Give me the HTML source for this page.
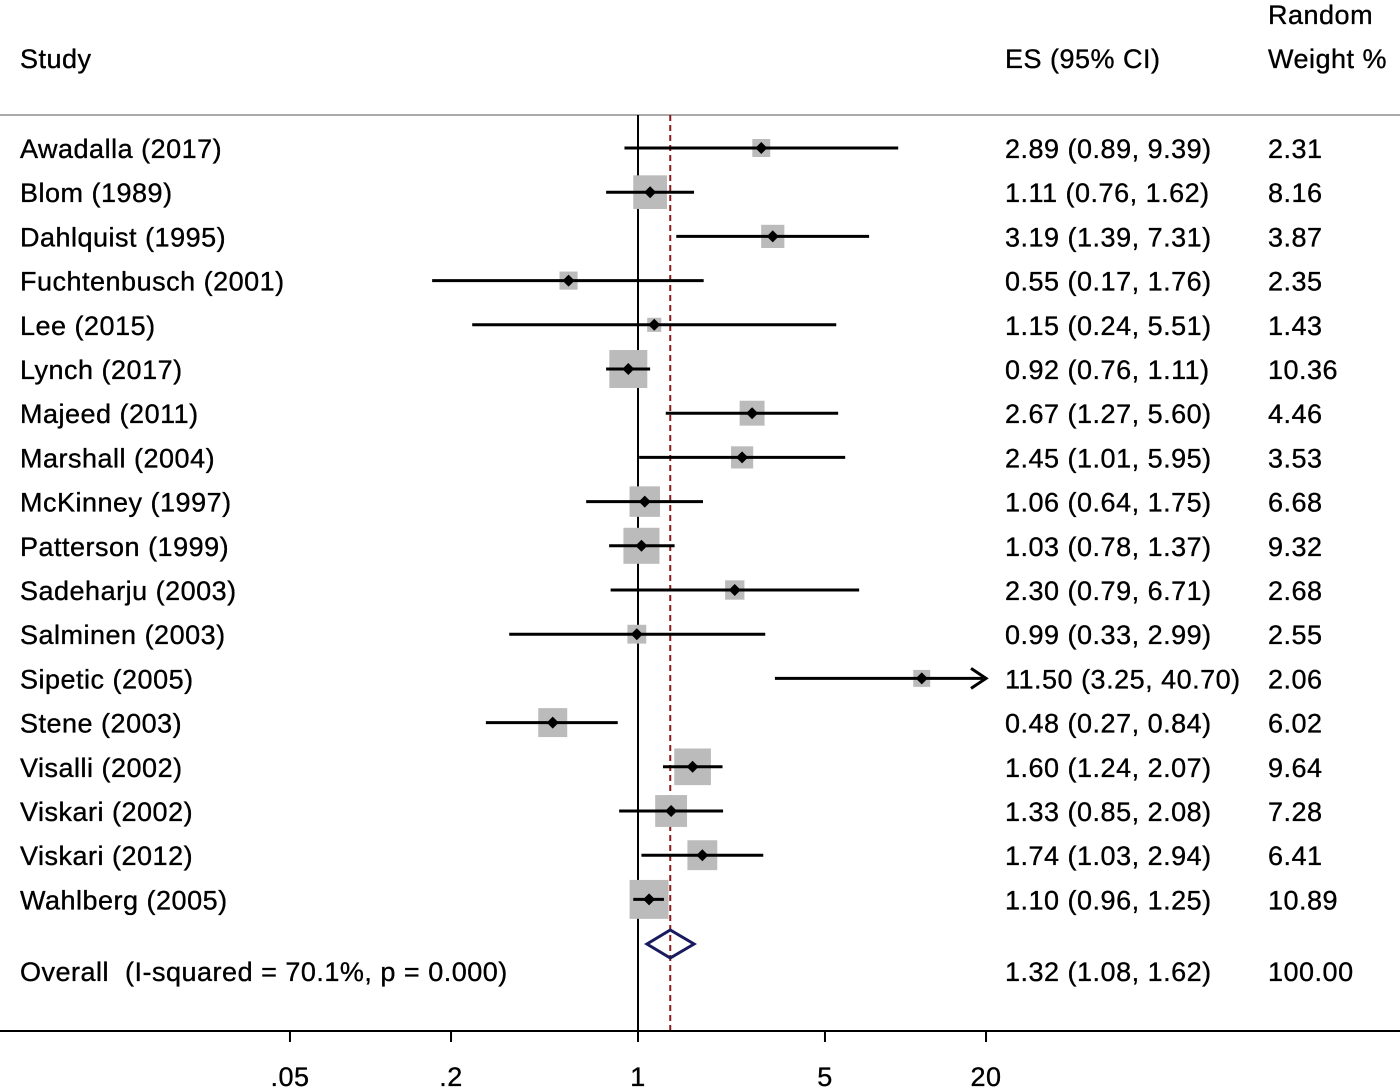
<!DOCTYPE html>
<html><head><meta charset="utf-8"><style>
body{margin:0;background:#fff;}
svg{display:block;font-family:"Liberation Sans",Arial,sans-serif;}
svg text{letter-spacing:0.5px;stroke:#000;stroke-width:0.35px;white-space:pre;}
</style></head><body>
<svg id="chart" width="1400" height="1089" viewBox="0 0 1400 1089">
<text x="20" y="68" font-size="27">Study</text>
<text x="1005" y="68" font-size="27">ES (95% CI)</text>
<text x="1268" y="24" font-size="27">Random</text>
<text x="1268" y="68" font-size="27">Weight %</text>
<line x1="0" y1="115" x2="1400" y2="115" stroke="#aaa" stroke-width="2"/>
<g id="g"></g>
</svg>
<script>
const studies=["Awadalla (2017)","Blom (1989)","Dahlquist (1995)","Fuchtenbusch (2001)","Lee (2015)","Lynch (2017)","Majeed (2011)","Marshall (2004)","McKinney (1997)","Patterson (1999)","Sadeharju (2003)","Salminen (2003)","Sipetic (2005)","Stene (2003)","Visalli (2002)","Viskari (2002)","Viskari (2012)","Wahlberg (2005)"];
const es=[2.89,1.11,3.19,0.55,1.15,0.92,2.67,2.45,1.06,1.03,2.30,0.99,11.50,0.48,1.60,1.33,1.74,1.10];
const lo=[0.89,0.76,1.39,0.17,0.24,0.76,1.27,1.01,0.64,0.78,0.79,0.33,3.25,0.27,1.24,0.85,1.03,0.96];
const hi=[9.39,1.62,7.31,1.76,5.51,1.11,5.60,5.95,1.75,1.37,6.71,2.99,40.70,0.84,2.07,2.08,2.94,1.25];
const weights=["2.31","8.16","3.87","2.35","1.43","10.36","4.46","3.53","6.68","9.32","2.68","2.55","2.06","6.02","9.64","7.28","6.41","10.89"];
const overall=[1.32,1.08,1.62];
const ticks=[0.05,0.2,1,5,20];
const tickLabels=[".05",".2","1","5","20"];
const NS="http://www.w3.org/2000/svg";
const g=document.getElementById('g');
const X=v=>638+Math.log10(v)*267.5;
const Y=i=>148+i*44.2;
const XMAX=20;
function el(t,a,txt){const e=document.createElementNS(NS,t);for(const k in a)e.setAttribute(k,a[k]);if(txt!==undefined)e.textContent=txt;g.appendChild(e);return e;}
const fmt=v=>v.toFixed(2);
let e;
e=el('line',{x1:638,y1:115,x2:638,y2:1031,stroke:'#000','stroke-width':2});

e=el('line',{x1:X(overall[0]),y1:115,x2:X(overall[0]),y2:1031,stroke:'#8b1a1a','stroke-width':2,'stroke-dasharray':'6,4'});

e=el('line',{x1:0,y1:1031,x2:1400,y2:1031,stroke:'#000','stroke-width':2});

ticks.forEach((t,i)=>{
 e=el('line',{x1:X(t),y1:1031,x2:X(t),y2:1042,stroke:'#000','stroke-width':2});
 
 e=el('text',{x:X(t),y:1086,'font-size':27,'text-anchor':'middle'},tickLabels[i]);
 
});
studies.forEach((s,i)=>{
 const y=Y(i);
 e=el('text',{x:20,y:y+10,'font-size':27},s);
 
 const side=11.8*Math.sqrt(parseFloat(weights[i]));
 e=el('rect',{x:X(es[i])-side/2,y:y-side/2,width:side,height:side,fill:'#bbb'});
 
 const h=Math.min(hi[i],XMAX);
 e=el('line',{x1:X(lo[i]),y1:y,x2:X(h)-(hi[i]>XMAX?3:0),y2:y,stroke:'#000','stroke-width':3});
 
 if(hi[i]>XMAX){
  e=el('polyline',{points:`${X(XMAX)-15},${y-10} ${X(XMAX)},${y} ${X(XMAX)-15},${y+10}`,fill:'none',stroke:'#000','stroke-width':3});
  
 }
 e=el('polygon',{points:`${X(es[i])-6},${y} ${X(es[i])},${y-6} ${X(es[i])+6},${y} ${X(es[i])},${y+6}`,fill:'#000'});
 
 e=el('text',{x:1005,y:y+10,'font-size':27},`${fmt(es[i])} (${fmt(lo[i])}, ${fmt(hi[i])})`);
 
 e=el('text',{x:1268,y:y+10,'font-size':27},weights[i]);
 
});
const dy=944;
e=el('polygon',{points:`${X(overall[1])},${dy} ${X(overall[0])},${dy-14} ${X(overall[2])},${dy} ${X(overall[0])},${dy+14}`,fill:'none',stroke:'#1a1a5e','stroke-width':3});

e=el('text',{x:20,y:981,'font-size':27},'Overall  (I-squared = 70.1%, p = 0.000)');

e=el('text',{x:1005,y:981,'font-size':27},`${fmt(overall[0])} (${fmt(overall[1])}, ${fmt(overall[2])})`);

e=el('text',{x:1268,y:981,'font-size':27},'100.00');

</script>
</body></html>
